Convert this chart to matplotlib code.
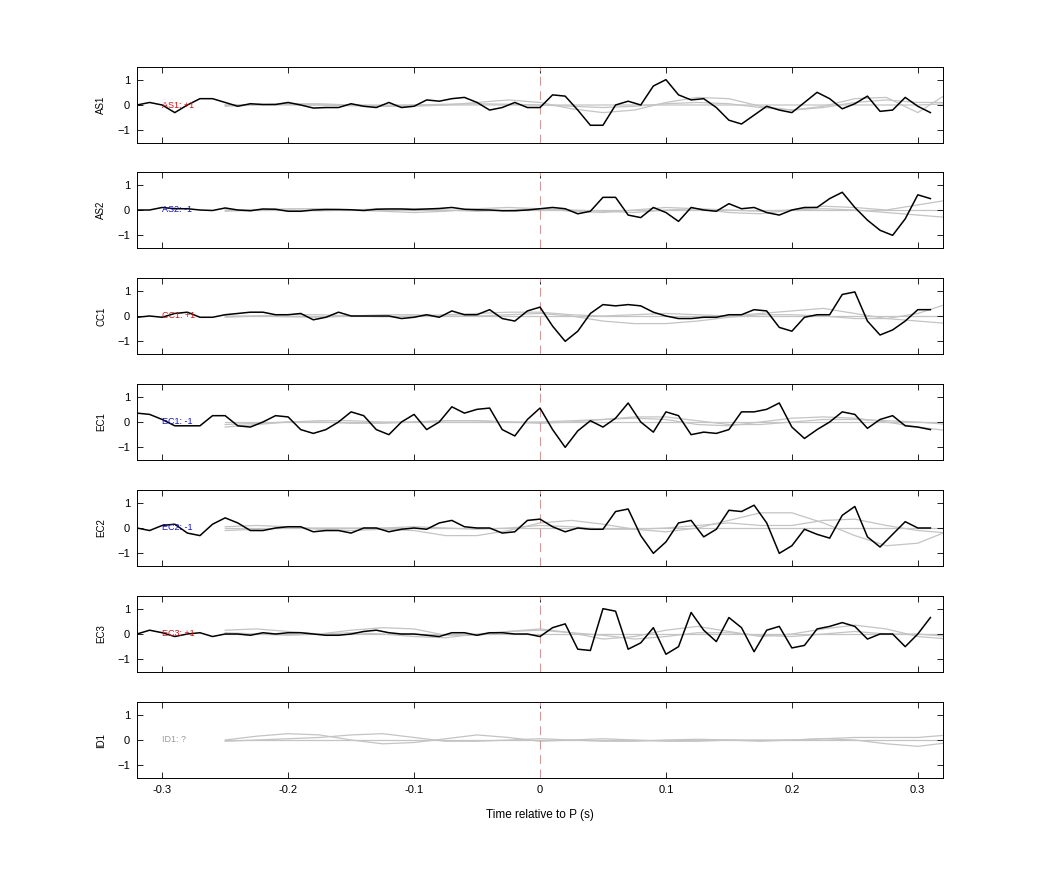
import numpy as np
import matplotlib
matplotlib.use("Agg")
import matplotlib.pyplot as plt

plt.rcParams['font.family'] = ['Liberation Sans', 'DejaVu Sans']

t = np.round(np.arange(-0.32, 0.315, 0.01), 2)
gt = np.round(np.arange(-0.25, 0.326, 0.025), 3)

stations = ["AS1", "AS2", "CC1", "EC1", "EC2", "EC3", "ID1"]
labels = ["AS1: +1", "AS2: -1", "CC1: +1", "EC1: -1", "EC2: -1", "EC3: +1", "ID1: ?"]
label_colors = ["#d01010", "#1010c0", "#d01010", "#1010c0", "#1010c0", "#d01010", "#999999"]

AS1 = [0, 0.1, 0, -0.3, 0, 0.25, 0.25, 0.1, -0.05, 0.05, 0.02, 0.02, 0.1, 0, -0.12, -0.1,
       -0.1, 0.05, -0.05, -0.1, 0.1, -0.1, -0.05, 0.2, 0.15, 0.25, 0.3, 0.1, -0.2, -0.1, 0.1, -0.1,
       -0.1, 0.4, 0.35, -0.2, -0.8, -0.8, 0, 0.15, 0, 0.75, 1.0, 0.4, 0.2, 0.25, -0.1, -0.6,
       -0.75, -0.4, -0.05, -0.2, -0.3, 0.1, 0.5, 0.25, -0.15, 0.05, 0.35, -0.25, -0.2, 0.3, -0.05, -0.3]
AS2 = [0, 0, 0.1, 0.05, 0.05, 0, -0.02, 0.08, 0, -0.03, 0.04, 0.03, -0.05, -0.05, 0, 0.02,
       0.02, 0.01, -0.02, 0.03, 0.04, 0.04, 0.02, 0.04, 0.06, 0.1, 0.03, 0.01, 0.0, -0.03, -0.03, 0.0,
       0.05, 0.1, 0.05, -0.15, -0.05, 0.5, 0.5, -0.2, -0.3, 0.1, -0.1, -0.45, 0.1, 0, -0.05, 0.25,
       0.05, 0.1, -0.1, -0.2, 0, 0.1, 0.1, 0.45, 0.7, 0.1, -0.4, -0.8, -1.0, -0.35, 0.6, 0.45]
CC1 = [-0.05, 0, -0.05, 0.1, 0.15, -0.05, -0.05, 0.05, 0.1, 0.15, 0.15, 0.05, 0.05, 0.1, -0.15, -0.05,
       0.15, 0, 0, 0, 0, -0.1, -0.05, 0.05, -0.05, 0.2, 0.05, 0.05, 0.25, -0.1, -0.2, 0.2,
       0.35, -0.4, -1.0, -0.6, 0.1, 0.45, 0.4, 0.45, 0.4, 0.15, 0, -0.1, -0.1, -0.05, -0.05, 0.05,
       0.05, 0.25, 0.2, -0.45, -0.6, -0.05, 0.05, 0.05, 0.85, 0.95, -0.2, -0.75, -0.55, -0.2, 0.25, 0.25]
EC1 = [0.35, 0.3, 0.1, -0.15, -0.15, -0.15, 0.25, 0.25, -0.15, -0.2, 0, 0.25, 0.2, -0.3, -0.45, -0.3,
       0, 0.4, 0.25, -0.3, -0.5, 0, 0.3, -0.3, 0, 0.6, 0.35, 0.5, 0.55, -0.3, -0.55, 0.1,
       0.55, -0.3, -1.0, -0.35, 0.05, -0.2, 0.15, 0.75, 0, -0.4, 0.4, 0.25, -0.5, -0.4, -0.45, -0.3,
       0.4, 0.4, 0.5, 0.75, -0.2, -0.65, -0.3, 0, 0.4, 0.3, -0.25, 0.1, 0.25, -0.15, -0.2, -0.3]
EC2 = [0, -0.1, 0.1, 0.15, -0.2, -0.3, 0.15, 0.4, 0.2, -0.1, -0.1, 0, 0.05, 0.05, -0.15, -0.1,
       -0.1, -0.2, 0, 0, -0.15, -0.05, 0, -0.05, 0.2, 0.3, 0.05, 0, 0, -0.2, -0.15, 0.3,
       0.35, 0.05, -0.15, 0, -0.05, -0.05, 0.65, 0.75, -0.3, -1.0, -0.55, 0.2, 0.3, -0.35, -0.05, 0.7,
       0.65, 0.9, 0.2, -1.0, -0.7, -0.05, -0.25, -0.4, 0.5, 0.85, -0.35, -0.75, -0.25, 0.25, 0, 0]
EC3 = [0, 0.15, 0.05, -0.1, 0, 0.05, -0.1, 0, 0, -0.05, 0.05, 0, 0.05, 0.05, 0, -0.05,
       -0.05, 0, 0.1, 0.15, 0.05, 0, 0, -0.05, -0.1, 0.05, 0.05, -0.05, 0.05, 0.05, 0, 0.0,
       -0.1, 0.25, 0.4, -0.6, -0.65, 1.0, 0.9, -0.6, -0.35, 0.25, -0.8, -0.5, 0.85, 0.15, -0.3, 0.65,
       0.25, -0.7, 0.15, 0.3, -0.55, -0.45, 0.2, 0.3, 0.45, 0.3, -0.2, 0, 0, -0.5, 0, 0.65]
black = [AS1, AS2, CC1, EC1, EC2, EC3, None]

G_AS1 = [
    [0, 0, 0, 0, 0, 0, 0, 0, 0, 0, 0, 0, 0, 0, 0, 0, 0, 0, 0, 0, 0, 0, 0, 0.05],
    [-0.05, 0, 0.05, 0.05, 0, -0.05, -0.05, 0, 0.1, 0.2, 0.1, -0.15, -0.3, -0.2, 0.1, 0.3, 0.25, -0.05, -0.2, -0.05, 0.25, 0.3, -0.3, 0.5],
    [0, 0.02, 0.03, 0, -0.03, -0.05, 0, 0.03, 0.05, 0.03, 0, -0.05, -0.1, -0.05, 0.05, 0.1, 0.05, -0.1, -0.2, -0.1, 0.1, 0.2, 0.1, 0.1],
]
G_AS2 = [
    [0, 0, 0, 0, 0, 0, 0, 0, 0, 0, 0, 0, 0, 0, 0, 0, 0, 0, 0, 0, 0, 0, 0, 0],
    [-0.05, 0, 0.05, 0.05, 0, -0.05, -0.1, -0.05, 0.05, 0.1, 0.05, -0.05, -0.1, 0, 0.1, 0.05, -0.1, -0.15, 0, 0.15, 0.1, 0, 0.2, 0.4],
    [0, 0.02, 0, -0.03, 0, 0.05, 0.05, 0, -0.05, 0, 0.05, 0, -0.05, -0.1, 0, 0.05, 0, -0.05, 0, 0.05, 0, -0.1, -0.2, -0.3],
]
G_CC1 = [
    [0, 0, 0, 0, 0, 0, 0, 0, 0, 0, 0, 0, 0, 0, 0, 0, 0, 0, 0, 0, 0, 0, 0, 0],
    [0, 0, -0.03, -0.05, 0, 0.05, 0.05, 0, 0, 0.05, 0.1, 0, -0.2, -0.3, -0.3, -0.2, -0.05, 0.05, 0.05, 0, -0.1, -0.1, 0.1, 0.5],
    [-0.05, 0, 0.05, 0.05, 0, -0.03, 0, 0.05, 0.1, 0.15, 0.15, 0.05, 0, 0.05, 0.1, 0.05, 0, 0.1, 0.2, 0.3, 0.1, -0.1, -0.2, -0.3],
]
G_EC1 = [
    [0, 0, 0, 0, 0, 0, 0, 0, 0, 0, 0, 0, 0, 0, 0, 0, 0, 0, 0, 0, 0, 0, 0, 0],
    [-0.2, -0.1, 0, 0.05, 0.05, 0, 0, 0.05, 0.05, 0, -0.05, 0, 0.1, 0.2, 0.2, 0.05, -0.1, -0.1, 0, 0.1, 0.1, 0.05, 0, -0.1],
    [-0.1, -0.05, 0, 0, -0.05, -0.05, 0, 0.05, 0.05, 0, 0, 0.05, 0.1, 0.15, 0.1, -0.1, -0.15, 0, 0.15, 0.2, 0.15, 0, -0.2, -0.35],
]
G_EC2 = [
    [0, 0, 0, 0, 0, 0, 0, 0, 0, 0, 0, 0, 0, 0, 0, 0, 0, 0, 0, 0, 0, 0, 0, 0],
    [0.05, 0.1, 0.05, -0.05, -0.1, -0.05, -0.1, -0.3, -0.3, -0.1, 0.2, 0.3, 0.15, -0.05, -0.15, 0, 0.3, 0.6, 0.6, 0.2, -0.3, -0.7, -0.6, -0.1],
    [-0.1, -0.05, 0, 0, 0, 0, 0.05, 0, -0.05, 0, 0.1, 0.05, -0.05, -0.05, 0, 0.1, 0.2, 0.1, 0.1, 0.3, 0.35, 0.1, -0.1, -0.2],
]
G_EC3 = [
    [0, 0, 0, 0, 0, 0, 0, 0, 0, 0, 0, 0, 0, 0, 0, 0, 0, 0, 0, 0, 0, 0, 0, 0],
    [0.15, 0.2, 0.1, 0, 0.15, 0.25, 0.2, -0.05, -0.05, 0.1, 0.2, 0.05, -0.2, -0.1, 0.15, 0.3, 0.1, -0.1, 0, 0.2, 0.35, 0.2, -0.1, -0.2],
    [0.05, 0, -0.05, 0, 0.05, 0, -0.1, -0.15, 0, 0.1, 0.15, 0.05, -0.05, -0.2, -0.1, 0.05, 0.05, -0.05, -0.1, 0, 0.1, 0, 0, -0.1],
]
G_ID1 = [
    [0, 0, 0, 0, 0, 0, 0, 0, 0, 0, 0, 0, 0, 0, 0, 0, 0, 0, 0, 0, 0, 0, 0, 0],
    [0, 0.15, 0.25, 0.2, 0, -0.15, -0.1, 0.05, 0.2, 0.1, -0.05, 0, 0.05, 0, -0.05, -0.05, 0, 0, 0, 0.05, 0, -0.15, -0.25, -0.1],
    [-0.05, 0, 0.05, 0.1, 0.2, 0.25, 0.1, -0.05, -0.05, 0, 0.05, 0, -0.05, -0.05, 0, 0.03, 0, -0.05, 0, 0.05, 0.1, 0.1, 0.1, 0.2],
]
gray = [G_AS1, G_AS2, G_CC1, G_EC1, G_EC2, G_EC3, G_ID1]

fig = plt.figure(figsize=(10.42, 8.75), dpi=100)
tops = [67, 172, 278, 384, 490, 596, 702]
for i, st in enumerate(stations):
    ax = fig.add_axes([137 / 1042, 1 - (tops[i] + 76) / 875, 806 / 1042, 76 / 875])
    for g in gray[i]:
        ax.plot(gt, g, color="#c4c4c4", lw=0.9, zorder=1)
    if black[i] is not None:
        ax.plot(t, black[i], color="black", lw=1.1, zorder=3)
    ax.axvline(0, color="#d09a9a", lw=0.8, ls=(0, (8, 5)), zorder=2)
    ax.text(-0.3, 0, labels[i], color=label_colors[i], fontsize=6.5, va="center", ha="left", zorder=4)
    ax.set_xlim(-0.32, 0.32)
    ax.set_ylim(-1.5, 1.5)
    ax.set_yticks([-1, 0, 1])
    ax.set_xticks([-0.3, -0.2, -0.1, 0, 0.1, 0.2, 0.3])
    ax.tick_params(direction="in", top=True, right=True, labelsize=8, length=4, width=0.6, pad=5)
    ax.set_ylabel(st, fontsize=7, labelpad=8)
    for s in ax.spines.values():
        s.set_linewidth(0.7)
    if i < len(stations) - 1:
        ax.set_xticklabels([])
    else:
        ax.set_xticklabels(["-0.3", "-0.2", "-0.1", "0", "0.1", "0.2", "0.3"])
        ax.set_xlabel("Time relative to P (s)", fontsize=8.5, labelpad=10)

fig.savefig("out.png", dpi=100)
